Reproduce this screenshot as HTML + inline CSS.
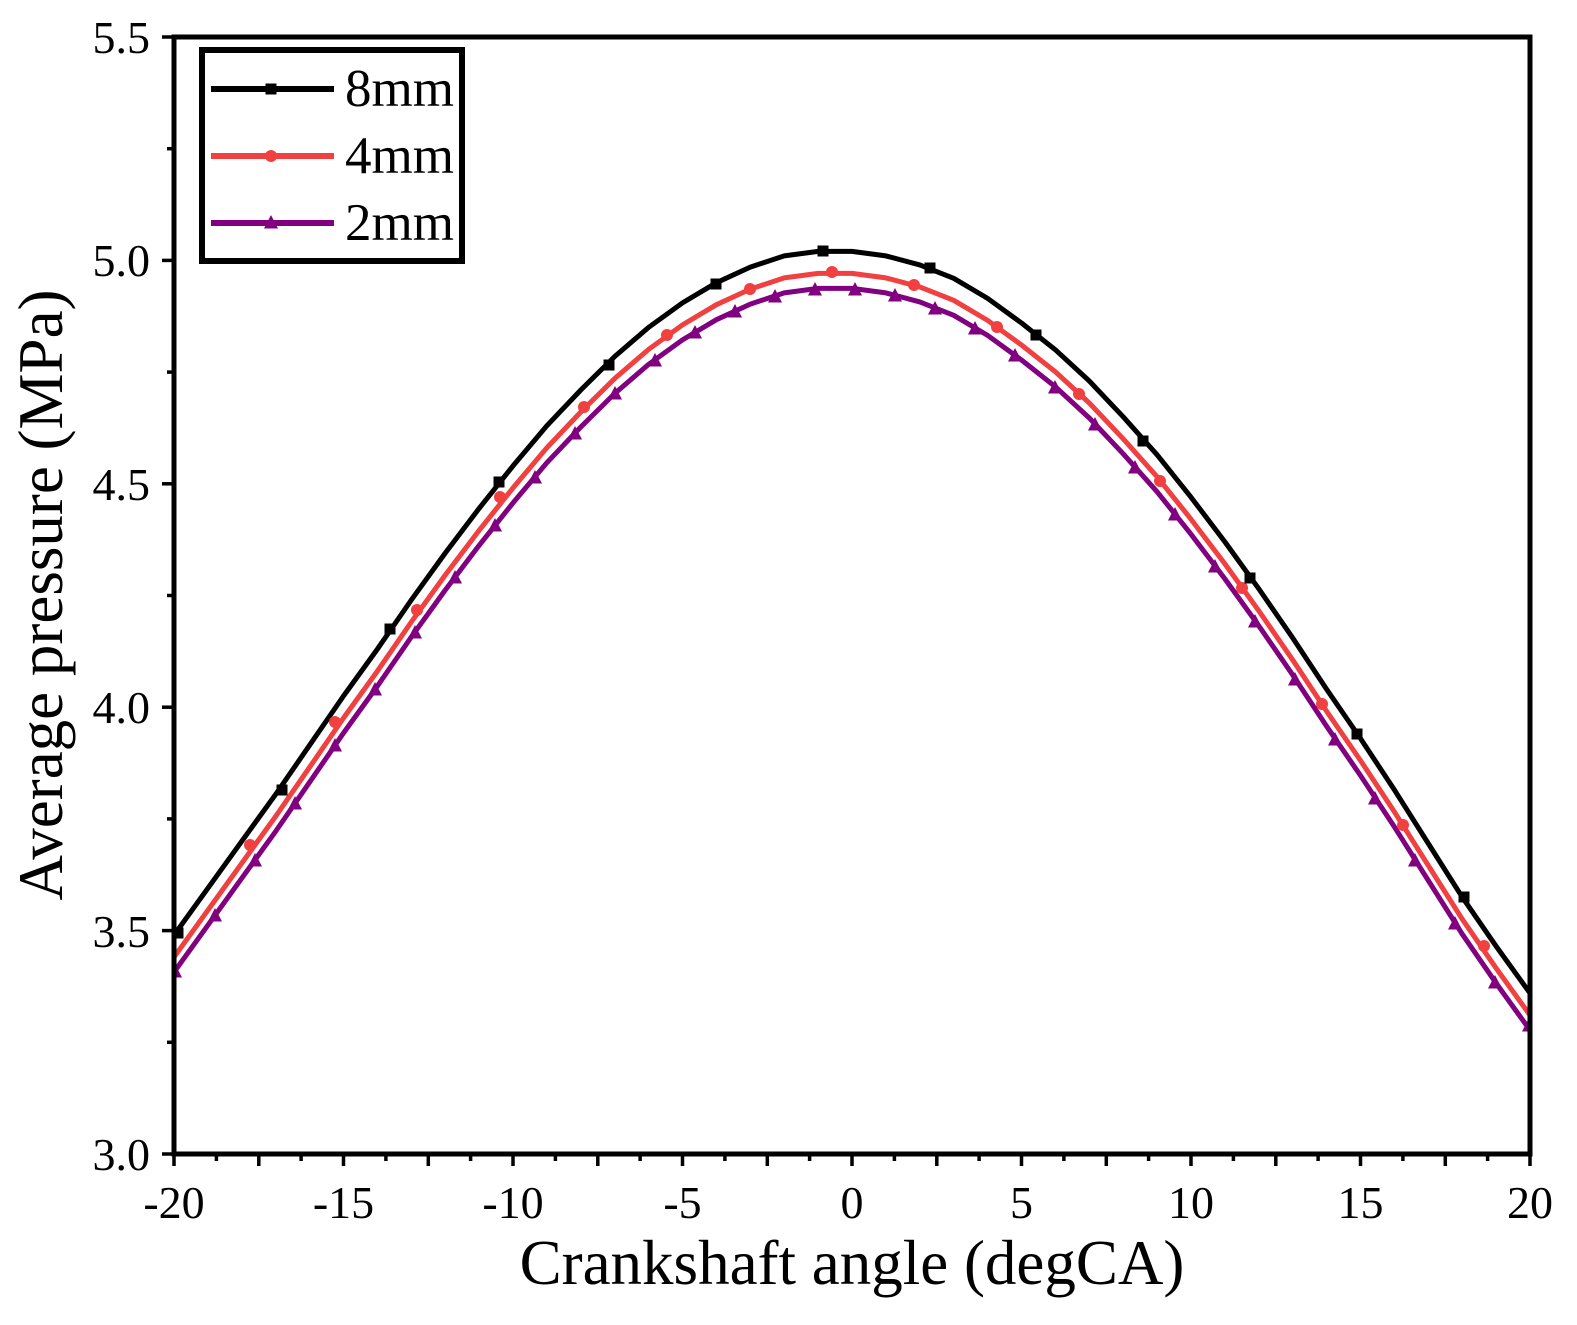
<!DOCTYPE html>
<html><head><style>body{margin:0;background:#fff}svg{display:block}text{font-family:"Liberation Serif",serif}</style></head>
<body>
<svg width="1577" height="1325" xmlns="http://www.w3.org/2000/svg" xmlns:xlink="http://www.w3.org/1999/xlink">
<defs>
<polyline id="c8" fill="none" stroke-linejoin="round" points="140,1040 174,935.1 207.9,888.2 241.8,841.2 275.7,794.3 309.6,745.2 343.5,696 377.4,649.1 411.3,600 445.2,553.1 479.1,508.4 513,465.9 546.9,425.7 580.8,390 614.7,356.5 648.6,327.4 682.5,302.9 716.4,282.7 750.3,267.1 784.2,255.9 818.1,251.4 852,251.4 885.9,255.9 919.8,264.9 953.7,278.3 987.6,298.4 1021.5,323 1055.4,349.8 1089.3,381 1123.2,416.8 1157.1,454.8 1191,497.2 1224.9,541.9 1258.8,588.8 1292.7,637.9 1326.6,689.3 1360.5,738.5 1394.4,789.9 1428.3,843.5 1462.2,897.1 1496.1,946.2 1530,993.2 1564,1040"/>
<rect id="sq" x="-5.5" y="-5.5" width="11" height="11"/>
<circle id="ci" cx="0" cy="0" r="6"/>
<polygon id="tr" points="0,-8 -7,5.5 7,5.5"/>
<clipPath id="cp"><rect x="174" y="37" width="1356" height="1117"/></clipPath>
</defs>
<g stroke="#000" stroke-width="3.5">
<line x1="174" y1="1154" x2="174" y2="1166"/><line x1="216.4" y1="1154" x2="216.4" y2="1161"/>
<line x1="258.8" y1="1154" x2="258.8" y2="1166"/><line x1="301.1" y1="1154" x2="301.1" y2="1161"/>
<line x1="343.5" y1="1154" x2="343.5" y2="1166"/><line x1="385.9" y1="1154" x2="385.9" y2="1161"/>
<line x1="428.3" y1="1154" x2="428.3" y2="1166"/><line x1="470.6" y1="1154" x2="470.6" y2="1161"/>
<line x1="513" y1="1154" x2="513" y2="1166"/><line x1="555.4" y1="1154" x2="555.4" y2="1161"/>
<line x1="597.8" y1="1154" x2="597.8" y2="1166"/><line x1="640.1" y1="1154" x2="640.1" y2="1161"/>
<line x1="682.5" y1="1154" x2="682.5" y2="1166"/><line x1="724.9" y1="1154" x2="724.9" y2="1161"/>
<line x1="767.3" y1="1154" x2="767.3" y2="1166"/><line x1="809.6" y1="1154" x2="809.6" y2="1161"/>
<line x1="852" y1="1154" x2="852" y2="1166"/><line x1="894.4" y1="1154" x2="894.4" y2="1161"/>
<line x1="936.8" y1="1154" x2="936.8" y2="1166"/><line x1="979.1" y1="1154" x2="979.1" y2="1161"/>
<line x1="1021.5" y1="1154" x2="1021.5" y2="1166"/><line x1="1063.9" y1="1154" x2="1063.9" y2="1161"/>
<line x1="1106.3" y1="1154" x2="1106.3" y2="1166"/><line x1="1148.6" y1="1154" x2="1148.6" y2="1161"/>
<line x1="1191" y1="1154" x2="1191" y2="1166"/><line x1="1233.4" y1="1154" x2="1233.4" y2="1161"/>
<line x1="1275.8" y1="1154" x2="1275.8" y2="1166"/><line x1="1318.1" y1="1154" x2="1318.1" y2="1161"/>
<line x1="1360.5" y1="1154" x2="1360.5" y2="1166"/><line x1="1402.9" y1="1154" x2="1402.9" y2="1161"/>
<line x1="1445.3" y1="1154" x2="1445.3" y2="1166"/><line x1="1487.6" y1="1154" x2="1487.6" y2="1161"/>
<line x1="1530" y1="1154" x2="1530" y2="1166"/>
<line x1="162" y1="1154" x2="174" y2="1154"/><line x1="167" y1="1042.3" x2="174" y2="1042.3"/>
<line x1="162" y1="930.6" x2="174" y2="930.6"/><line x1="167" y1="818.9" x2="174" y2="818.9"/>
<line x1="162" y1="707.2" x2="174" y2="707.2"/><line x1="167" y1="595.5" x2="174" y2="595.5"/>
<line x1="162" y1="483.8" x2="174" y2="483.8"/><line x1="167" y1="372.1" x2="174" y2="372.1"/>
<line x1="162" y1="260.4" x2="174" y2="260.4"/><line x1="167" y1="148.7" x2="174" y2="148.7"/>
<line x1="162" y1="37" x2="174" y2="37"/>
</g>
<g font-size="46" text-anchor="middle">
<text x="174" y="1218">-20</text><text x="343.5" y="1218">-15</text><text x="513" y="1218">-10</text><text x="682.5" y="1218">-5</text><text x="852" y="1218">0</text><text x="1021.5" y="1218">5</text><text x="1191" y="1218">10</text><text x="1360.5" y="1218">15</text><text x="1530" y="1218">20</text>
</g>
<g font-size="46" text-anchor="end">
<text x="150" y="1170">3.0</text><text x="150" y="947">3.5</text><text x="150" y="723">4.0</text><text x="150" y="500">4.5</text><text x="150" y="276">5.0</text><text x="150" y="53">5.5</text>
</g>
<g clip-path="url(#cp)" stroke-width="5">
<use href="#c8" xlink:href="#c8" stroke="#800080" transform="translate(0,37)"/>
<use href="#c8" xlink:href="#c8" stroke="#f04040" transform="translate(0,22)"/>
<use href="#c8" xlink:href="#c8" stroke="#000"/>
</g>
<g clip-path="url(#cp)">
<g fill="#800080">
<use href="#tr" xlink:href="#tr" x="175" y="972"/><use href="#tr" xlink:href="#tr" x="215" y="916"/><use href="#tr" xlink:href="#tr" x="255" y="861"/><use href="#tr" xlink:href="#tr" x="295" y="804"/><use href="#tr" xlink:href="#tr" x="335" y="746"/><use href="#tr" xlink:href="#tr" x="375" y="690"/><use href="#tr" xlink:href="#tr" x="415" y="633"/><use href="#tr" xlink:href="#tr" x="455" y="578"/><use href="#tr" xlink:href="#tr" x="495" y="526"/><use href="#tr" xlink:href="#tr" x="535" y="478"/><use href="#tr" xlink:href="#tr" x="575" y="434"/><use href="#tr" xlink:href="#tr" x="615" y="394"/><use href="#tr" xlink:href="#tr" x="655" y="361"/><use href="#tr" xlink:href="#tr" x="695" y="333"/><use href="#tr" xlink:href="#tr" x="735" y="312"/><use href="#tr" xlink:href="#tr" x="775" y="297"/><use href="#tr" xlink:href="#tr" x="815" y="290"/><use href="#tr" xlink:href="#tr" x="855" y="290"/><use href="#tr" xlink:href="#tr" x="895" y="296"/><use href="#tr" xlink:href="#tr" x="935" y="309"/><use href="#tr" xlink:href="#tr" x="975" y="329"/><use href="#tr" xlink:href="#tr" x="1015" y="356"/><use href="#tr" xlink:href="#tr" x="1055" y="388"/><use href="#tr" xlink:href="#tr" x="1095" y="425"/><use href="#tr" xlink:href="#tr" x="1135" y="468"/><use href="#tr" xlink:href="#tr" x="1175" y="515"/><use href="#tr" xlink:href="#tr" x="1215" y="567"/><use href="#tr" xlink:href="#tr" x="1255" y="622"/><use href="#tr" xlink:href="#tr" x="1295" y="680"/><use href="#tr" xlink:href="#tr" x="1335" y="740"/><use href="#tr" xlink:href="#tr" x="1375" y="799"/><use href="#tr" xlink:href="#tr" x="1415" y="861"/><use href="#tr" xlink:href="#tr" x="1455" y="924"/><use href="#tr" xlink:href="#tr" x="1495" y="983"/><use href="#tr" xlink:href="#tr" x="1529" y="1026"/>
</g>
<g fill="#f04040">
<use href="#ci" xlink:href="#ci" x="250" y="845"/><use href="#ci" xlink:href="#ci" x="335" y="722"/><use href="#ci" xlink:href="#ci" x="417" y="610"/><use href="#ci" xlink:href="#ci" x="500" y="497"/><use href="#ci" xlink:href="#ci" x="584" y="407"/><use href="#ci" xlink:href="#ci" x="667" y="335"/><use href="#ci" xlink:href="#ci" x="750" y="289"/><use href="#ci" xlink:href="#ci" x="832" y="272"/><use href="#ci" xlink:href="#ci" x="914" y="285"/><use href="#ci" xlink:href="#ci" x="997" y="327"/><use href="#ci" xlink:href="#ci" x="1079" y="394"/><use href="#ci" xlink:href="#ci" x="1160" y="481"/><use href="#ci" xlink:href="#ci" x="1242" y="588"/><use href="#ci" xlink:href="#ci" x="1322" y="704"/><use href="#ci" xlink:href="#ci" x="1403" y="825"/><use href="#ci" xlink:href="#ci" x="1484" y="946"/>
</g>
<g fill="#000">
<use href="#sq" xlink:href="#sq" x="178" y="933"/><use href="#sq" xlink:href="#sq" x="282" y="790"/><use href="#sq" xlink:href="#sq" x="390" y="629"/><use href="#sq" xlink:href="#sq" x="499" y="482"/><use href="#sq" xlink:href="#sq" x="609" y="365"/><use href="#sq" xlink:href="#sq" x="716" y="284"/><use href="#sq" xlink:href="#sq" x="823" y="251"/><use href="#sq" xlink:href="#sq" x="930" y="268"/><use href="#sq" xlink:href="#sq" x="1036" y="335"/><use href="#sq" xlink:href="#sq" x="1143" y="441"/><use href="#sq" xlink:href="#sq" x="1250" y="578"/><use href="#sq" xlink:href="#sq" x="1357" y="734"/><use href="#sq" xlink:href="#sq" x="1464" y="897"/>
</g>
</g>
<rect x="174" y="37" width="1356" height="1117" fill="none" stroke="#000" stroke-width="5"/>
<rect x="202" y="50" width="260" height="211" fill="#fff" stroke="#000" stroke-width="6"/>
<line x1="211" y1="89" x2="334" y2="89" stroke="#000" stroke-width="6"/><use href="#sq" xlink:href="#sq" x="271" y="89" fill="#000"/>
<line x1="211" y1="156" x2="334" y2="156" stroke="#f04040" stroke-width="6"/><use href="#ci" xlink:href="#ci" x="271" y="156" fill="#f04040"/>
<line x1="211" y1="223" x2="334" y2="223" stroke="#800080" stroke-width="6"/><use href="#tr" xlink:href="#tr" x="271" y="223" fill="#800080"/>
<text x="345" y="106" font-size="53">8mm</text>
<text x="345" y="173" font-size="53">4mm</text>
<text x="345" y="240" font-size="53">2mm</text>
<text x="852" y="1284" font-size="63" text-anchor="middle">Crankshaft angle (degCA)</text>
<text transform="translate(62,595) rotate(-90)" font-size="63" text-anchor="middle">Average pressure (MPa)</text>
</svg>
</body></html>
